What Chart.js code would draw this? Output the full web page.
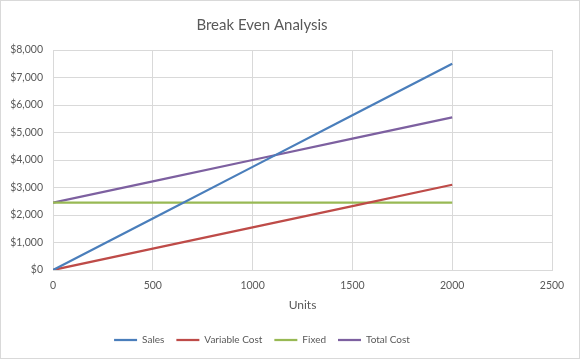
<!DOCTYPE html>
<html>
<head>
<meta charset="utf-8">
<script src="https://cdn.jsdelivr.net/npm/chart.js@4.4.0/dist/chart.umd.min.js"></script>
<style>
html,body{margin:0;padding:0;background:#fff;}
#wrap{width:580px;height:359px;position:relative;}
</style>
</head>
<body>
<div id="wrap"><canvas id="c" width="580" height="359"></canvas></div>
<script>
const units = [0, 500, 1000, 1500, 2000];
const sales = [0, 1875, 3750, 5625, 7500];
const variableCost = [0, 775, 1550, 2325, 3100];
const fixed = [2450, 2450, 2450, 2450, 2450];
const totalCost = [2450, 3225, 4000, 4775, 5550];
const xTicks = [0, 500, 1000, 1500, 2000, 2500];
const yTicks = [0, 1000, 2000, 3000, 4000, 5000, 6000, 7000, 8000];

const FONT = 'Lato, "Liberation Sans", sans-serif';
const TXT = '#595959';
const GRID = '#d9d9d9';

function pts(ys){ return units.map((x,i)=>({x:x, y:ys[i]})); }
function ds(label, ys, color){
  return {label:label, data:pts(ys), borderColor:color, backgroundColor:color,
    borderWidth:2.25, pointRadius:0, pointHoverRadius:0, showLine:true, tension:0, fill:false};
}

const borderPlugin = {
  id:'outerBorder',
  afterLayout(chart){
    // centre title and legend the way the reference does (left of the canvas centre)
    if (chart.titleBlock) chart.titleBlock.right = 524;
    if (chart.legend) chart.legend.right = 524;
  },
  afterDraw(chart){
    const ctx = chart.ctx;
    ctx.save();
    ctx.strokeStyle = GRID;
    ctx.lineWidth = 1;
    ctx.strokeRect(0.5, 0.5, chart.width-1, chart.height-1);
    ctx.restore();
  }
};

new Chart(document.getElementById('c'), {
  type:'scatter',
  data:{datasets:[
    ds('Sales', sales, '#4a7ebb'),
    ds('Variable Cost', variableCost, '#be4b48'),
    ds('Fixed', fixed, '#98b954'),
    ds('Total Cost', totalCost, '#7d60a0')
  ]},
  options:{
    responsive:false,
    animation:false,
    devicePixelRatio:1,
    layout:{padding:{left:0, right:28, top:0, bottom:4}},
    plugins:{
      title:{display:true, text:'Break Even Analysis', color:TXT,
        font:{family:FONT, size:15, weight:'normal'}, padding:{top:16, bottom:16}},
      legend:{position:'bottom', labels:{color:TXT, font:{family:FONT, size:10},
        usePointStyle:true, pointStyle:'line', pointStyleWidth:23, boxHeight:10, padding:12}},
      tooltip:{enabled:false}
    },
    scales:{
      x:{type:'linear', min:0, max:2500,
        afterBuildTicks(s){ s.ticks = xTicks.map(v=>({value:v})); },
        afterFit(s){ s.height = 53; },
        grid:{color:GRID, drawTicks:false, lineWidth:1},
        border:{color:GRID, width:1},
        ticks:{color:TXT, font:{family:FONT, size:10.5}, padding:9, maxRotation:0,
          callback:v=>String(v)},
        title:{display:true, text:'Units', color:TXT, font:{family:FONT, size:12}, padding:{top:4, bottom:11}}
      },
      y:{type:'linear', min:0, max:8000,
        afterBuildTicks(s){ s.ticks = yTicks.map(v=>({value:v})); },
        afterFit(s){ s.width = 53; },
        grid:{color:GRID, drawTicks:false, lineWidth:1},
        border:{color:GRID, width:1},
        ticks:{color:TXT, font:{family:FONT, size:10.5}, padding:10,
          callback:v=>'$'+v.toLocaleString('en-US')}
      }
    }
  },
  plugins:[borderPlugin]
});
</script>
</body>
</html>
